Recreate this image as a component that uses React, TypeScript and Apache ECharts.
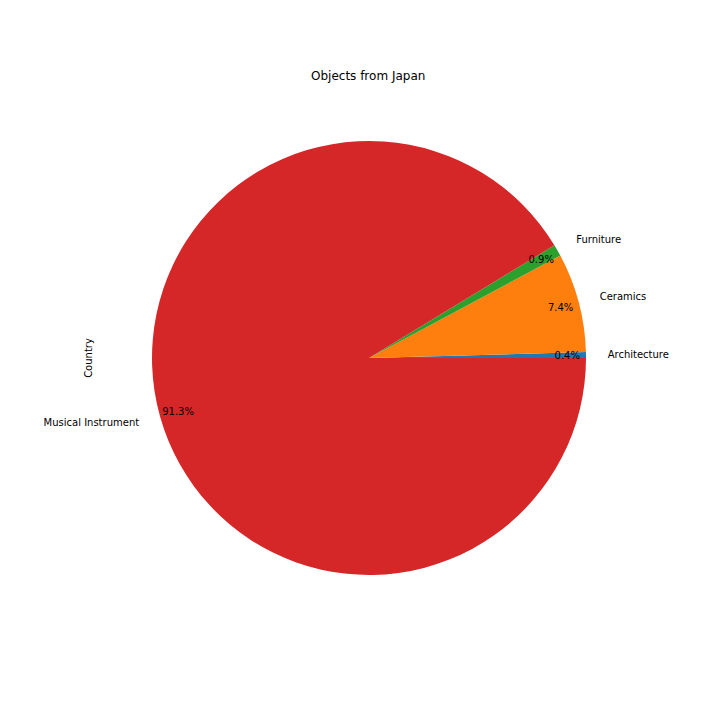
import React, { useEffect, useRef } from "react";
import * as echarts from "echarts";

const categories = ["Architecture", "Ceramics", "Furniture", "Musical Instrument"];
const counts = [1, 17, 2, 210];
const colors = ["#1f77b4", "#ff7f0e", "#2ca02c", "#d62728"];
const titleText = "Objects from Japan";
const yLabel = "Country";

export default function App() {
  const ref = useRef<HTMLDivElement>(null);
  useEffect(() => {
    document.body.style.margin = "0";
    if (!ref.current) return;
    const chart = echarts.init(ref.current, null, { renderer: "svg" });
    const R = 217;
    const data = categories.map((c, i) => ({
      name: c,
      value: counts[i],
      itemStyle: { color: colors[i] },
    }));
    const font = "DejaVu Sans";
    chart.setOption({
      animation: false,
      backgroundColor: "#ffffff",
      title: {
        text: titleText,
        left: 306,
        top: 65,
        textStyle: { fontFamily: font, fontSize: 12, fontWeight: "normal", color: "#000" },
      },
      graphic: [
        {
          type: "text",
          x: 88,
          y: 358,
          rotation: Math.PI / 2,
          style: {
            text: yLabel,
            fontFamily: font,
            fontSize: 10,
            fill: "#000",
            align: "center",
            verticalAlign: "middle",
          },
        },
      ],
      series: [
        {
          type: "pie",
          center: [369, 358],
          radius: [0, R],
          startAngle: 0,
          clockwise: false,
          avoidLabelOverlap: false,
          percentPrecision: 1,
          itemStyle: { borderWidth: 0 },
          emphasis: { disabled: true },
          label: {
            show: true,
            position: "outside",
            formatter: "{b}",
            fontFamily: font,
            fontSize: 10,
            color: "#000",
            distanceToLabelLine: 0,
          },
          labelLine: { show: false, length: R * 0.1, length2: 0 },
          data,
        },
        {
          type: "pie",
          center: [369, 358],
          radius: [R * 0.8, R],
          startAngle: 0,
          clockwise: false,
          avoidLabelOverlap: false,
          percentPrecision: 1,
          silent: true,
          itemStyle: { color: "transparent", borderWidth: 0 },
          emphasis: { disabled: true },
          label: {
            show: true,
            position: "inside",
            formatter: (p: any) => p.percent.toFixed(1) + "%",
            fontFamily: font,
            fontSize: 10,
            color: "#000",
          },
          labelLine: { show: false },
          data: categories.map((c, i) => ({ name: c, value: counts[i] })),
        },
      ],
    });
    return () => chart.dispose();
  }, []);
  return <div ref={ref} style={{ width: 720, height: 720 }} />;
}
